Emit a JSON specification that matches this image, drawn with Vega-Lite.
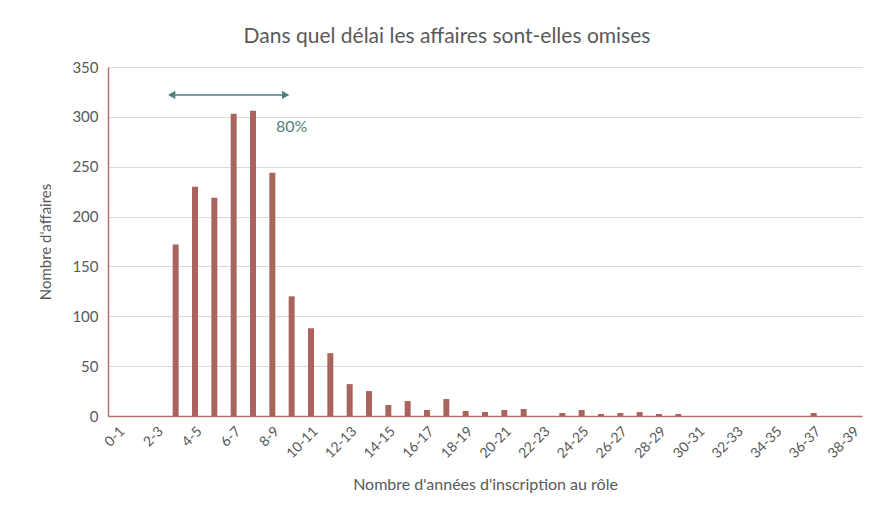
{
  "$schema": "https://vega.github.io/schema/vega-lite/v6.json",
  "width": 754,
  "height": 349,
  "autosize": {"type": "none"},
  "padding": {"left": 108, "top": 67, "right": 12, "bottom": 110},
  "background": "white",
  "config": {
    "font": "Lato",
    "view": {"stroke": null}
  },
  "title": {
    "text": "Dans quel délai les affaires sont-elles omises",
    "fontSize": 21,
    "fontWeight": "normal",
    "color": "#595959",
    "font": "Lato",
    "anchor": "middle",
    "dx": -38,
    "offset": 13
  },
  "datasets": {
    "bars": [
      {"cat": "0-1", "n": 0}, {"cat": "1-2", "n": 0}, {"cat": "2-3", "n": 0},
      {"cat": "3-4", "n": 172}, {"cat": "4-5", "n": 230}, {"cat": "5-6", "n": 219},
      {"cat": "6-7", "n": 303}, {"cat": "7-8", "n": 306}, {"cat": "8-9", "n": 244},
      {"cat": "9-10", "n": 120}, {"cat": "10-11", "n": 88}, {"cat": "11-12", "n": 63},
      {"cat": "12-13", "n": 32}, {"cat": "13-14", "n": 25}, {"cat": "14-15", "n": 11},
      {"cat": "15-16", "n": 15}, {"cat": "16-17", "n": 6}, {"cat": "17-18", "n": 17},
      {"cat": "18-19", "n": 5}, {"cat": "19-20", "n": 4}, {"cat": "20-21", "n": 6},
      {"cat": "21-22", "n": 7}, {"cat": "22-23", "n": 0}, {"cat": "23-24", "n": 3},
      {"cat": "24-25", "n": 6}, {"cat": "25-26", "n": 2}, {"cat": "26-27", "n": 3},
      {"cat": "27-28", "n": 4}, {"cat": "28-29", "n": 2}, {"cat": "29-30", "n": 2},
      {"cat": "30-31", "n": 0}, {"cat": "31-32", "n": 0}, {"cat": "32-33", "n": 0},
      {"cat": "33-34", "n": 0}, {"cat": "34-35", "n": 0}, {"cat": "35-36", "n": 0},
      {"cat": "36-37", "n": 3}, {"cat": "37-38", "n": 0}, {"cat": "38-39", "n": 0}
    ],
    "arrow": [{"a": "3-4", "b": "9-10", "y": 322}],
    "headL": [{"cat": "3-4", "y": 322}],
    "headR": [{"cat": "9-10", "y": 322}],
    "lbl": [{"cat": "9-10", "y": 290, "t": "80%"}]
  },
  "layer": [
    {
      "data": {"name": "bars"},
      "mark": {"type": "bar", "color": "#a9655d", "width": {"band": 0.31}},
      "encoding": {
        "x": {
          "field": "cat", "type": "nominal", "sort": null,
          "scale": {"paddingInner": 0, "paddingOuter": 0},
          "axis": {
            "title": "Nombre d'années d'inscription au rôle",
            "titleFont": "Lato", "titleFontSize": 16, "titleFontWeight": "normal", "titleColor": "#595959",
            "titlePadding": 16,
            "values": ["0-1","2-3","4-5","6-7","8-9","10-11","12-13","14-15","16-17","18-19","20-21","22-23","24-25","26-27","28-29","30-31","32-33","34-35","36-37","38-39"],
            "labelAngle": -45, "labelFont": "Lato", "labelFontSize": 14, "labelColor": "#595959",
            "labelPadding": 8,
            "ticks": false, "grid": false,
            "domainColor": "#b5736b", "domainWidth": 1.5
          }
        },
        "y": {
          "field": "n", "type": "quantitative",
          "scale": {"domain": [0, 350], "nice": false},
          "axis": {
            "title": "Nombre d'affaires",
            "titleFont": "Lato", "titleFontSize": 15, "titleFontWeight": "normal", "titleColor": "#595959",
            "titlePadding": 18,
            "values": [0, 50, 100, 150, 200, 250, 300, 350],
            "labelFont": "Lato", "labelFontSize": 15, "labelColor": "#595959", "labelPadding": 10,
            "ticks": false,
            "gridColor": "#d9d9d9", "gridWidth": 1.2,
            "domainColor": "#b5736b", "domainWidth": 1.5
          }
        }
      }
    },
    {
      "data": {"name": "lbl"},
      "mark": {"type": "text", "fontSize": 16, "font": "Lato", "color": "#4f7f80", "align": "center", "baseline": "middle"},
      "encoding": {
        "x": {"field": "cat", "type": "nominal", "sort": null},
        "y": {"field": "y", "type": "quantitative"},
        "text": {"field": "t"}
      }
    },
    {
      "data": {"name": "arrow"},
      "mark": {"type": "rule", "color": "#4f7f80", "strokeWidth": 1.5, "xOffset": -4, "x2Offset": -6},
      "encoding": {
        "x": {"field": "a", "type": "nominal", "sort": null},
        "x2": {"field": "b"},
        "y": {"field": "y", "type": "quantitative"}
      }
    },
    {
      "data": {"name": "headL"},
      "mark": {"type": "point", "shape": "triangle-left", "filled": true, "color": "#4f7f80", "opacity": 1, "size": 70, "xOffset": -4},
      "encoding": {
        "x": {"field": "cat", "type": "nominal", "sort": null},
        "y": {"field": "y", "type": "quantitative"}
      }
    },
    {
      "data": {"name": "headR"},
      "mark": {"type": "point", "shape": "triangle-right", "filled": true, "color": "#4f7f80", "opacity": 1, "size": 70, "xOffset": -6},
      "encoding": {
        "x": {"field": "cat", "type": "nominal", "sort": null},
        "y": {"field": "y", "type": "quantitative"}
      }
    }
  ]
}
